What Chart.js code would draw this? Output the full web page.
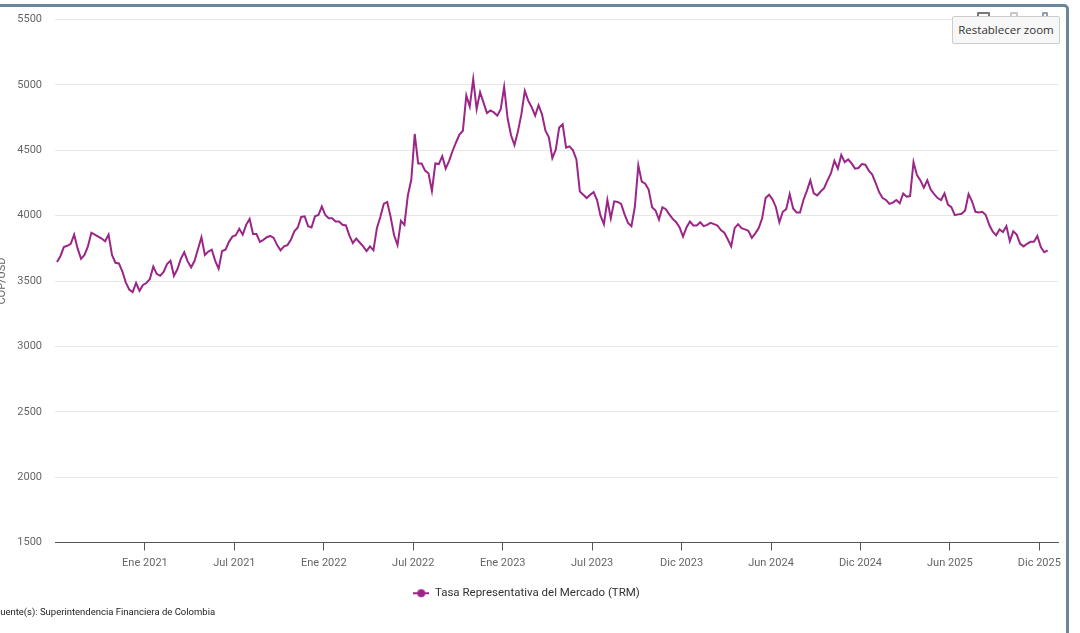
<!DOCTYPE html>
<html lang="es">
<head>
<meta charset="utf-8">
<title>Tasa Representativa del Mercado (TRM)</title>
<script src="https://cdn.jsdelivr.net/npm/chart.js@4.4.1/dist/chart.umd.min.js"></script>
<style>
  html, body { margin: 0; padding: 0; background: #fff; overflow: hidden; }
  body { width: 1080px; height: 633px; position: relative; font-family: Roboto, sans-serif; }
  #frame { position: absolute; left: -20px; top: 4px; width: 1089px; height: 700px;
           border: 3px solid #6a869b; border-radius: 5px; box-sizing: border-box; }
  #wrap { position: absolute; left: -5px; top: 0; width: 1085px; height: 633px; }
  #source { position: absolute; left: -5px; top: 606px; font: 9.5px Roboto, sans-serif; color: #222; white-space: nowrap; }
  .icon { position: absolute; top: 12px; height: 10px; box-sizing: border-box; border-radius: 1px; }
  #reset { position: absolute; left: 952px; top: 16px; width: 108px; height: 28px; box-sizing: border-box;
           background: #f7f7f7; border: 1px solid #cccccc; border-radius: 2px;
           font: 11.5px "Open Sans", sans-serif; color: #333; line-height: 26px; text-align: center; }
</style>
</head>
<body>
<div id="frame"></div>
<div id="wrap"><canvas id="trmChart" width="1085" height="633"></canvas></div>
<div class="icon" style="left:977px;width:13px;border:2px solid #777;"></div>
<div class="icon" style="left:1010px;width:8px;border:2px solid #c8c8c8;"></div>
<div class="icon" style="left:1042px;width:6px;border:2px solid #8c9fb0;"></div>
<div id="reset">Restablecer zoom</div>
<div id="source">Fuente(s): Superintendencia Financiera de Colombia</div>
<script>
// weekly TRM readings (COP per USD), first week starts on startDate
const startDate = '2020-07-06'
const trm2020 = [3645, 3690, 3760, 3770, 3785, 3855, 3750, 3670, 3700, 3765, 3870, 3855, 3840, 3825, 3805, 3855,
  3700, 3640, 3635, 3575, 3490, 3435, 3415, 3485, 3425, 3470]
const trm2021 = [3485, 3515, 3610, 3555, 3540, 3570, 3630, 3655, 3540, 3590, 3670, 3720, 3650, 3605, 3655, 3745,
  3835, 3700, 3725, 3740, 3655, 3595, 3730, 3740, 3800, 3840, 3850, 3900, 3855, 3930, 3975, 3860,
  3860, 3800, 3815, 3835, 3845, 3830, 3775, 3735, 3765, 3775, 3815, 3880, 3910, 3990, 3995, 3920,
  3910, 3995, 4005, 4070]
const trm2022 = [4005, 3980, 3980, 3955, 3955, 3930, 3925, 3850, 3790, 3825, 3795, 3765, 3730, 3765, 3735, 3905,
  3990, 4090, 4105, 3990, 3850, 3775, 3960, 3930, 4155, 4275, 4625, 4400, 4400, 4345, 4325, 4190,
  4400, 4395, 4455, 4360, 4420, 4495, 4560, 4620, 4650, 4920, 4835, 5045, 4815, 4945, 4865, 4785,
  4805, 4790, 4765, 4815]
const trm2023 = [4985, 4745, 4615, 4540, 4645, 4775, 4955, 4880, 4830, 4765, 4845, 4775, 4650, 4600, 4440, 4505,
  4675, 4700, 4520, 4530, 4500, 4430, 4185, 4160, 4135, 4160, 4180, 4120, 4000, 3935, 4120, 3980,
  4110, 4105, 4090, 4010, 3945, 3920, 4070, 4385, 4260, 4245, 4200, 4065, 4040, 3970, 4065, 4050,
  4010, 3975, 3950, 3910]
const trm2024 = [3840, 3910, 3955, 3925, 3925, 3950, 3920, 3930, 3945, 3935, 3925, 3890, 3870, 3820, 3765, 3905,
  3935, 3905, 3895, 3885, 3830, 3865, 3905, 3980, 4135, 4160, 4125, 4065, 3950, 4030, 4050, 4165,
  4055, 4025, 4025, 4120, 4190, 4270, 4170, 4155, 4185, 4210, 4270, 4325, 4420, 4360, 4465, 4410,
  4430, 4400, 4360, 4365, 4395]
const trm2025 = [4390, 4345, 4315, 4250, 4180, 4135, 4120, 4090, 4100, 4120, 4095, 4170, 4145, 4150, 4410, 4310,
  4270, 4215, 4270, 4200, 4165, 4135, 4120, 4170, 4085, 4065, 4005, 4010, 4015, 4040, 4165, 4110,
  4030, 4025, 4030, 4005, 3930, 3880, 3850, 3895, 3875, 3920, 3805, 3880, 3855, 3785, 3765, 3785,
  3800, 3800, 3845, 3760]
const trm2026 = [3720, 3735]

const tickDates = ['2021-01-01', '2021-07-02', '2021-12-31', '2022-07-01', '2022-12-30', '2023-06-30',
  '2023-12-29', '2024-06-28', '2024-12-27', '2025-06-27', '2025-12-26']
const tickLabels = ['Ene 2021', 'Jul 2021', 'Ene 2022', 'Jul 2022', 'Ene 2023', 'Jul 2023',
  'Dic 2023', 'Jun 2024', 'Dic 2024', 'Jun 2025', 'Dic 2025']

const lineColor = '#9b2687'
const DAY = 86400000
const t0 = Date.parse(startDate)

const weekly = [].concat(trm2020, trm2021, trm2022, trm2023, trm2024, trm2025, trm2026)
const points = weekly.map((v, i) => ({ x: i * 7, y: v }))
const tickDays = tickDates.map(d => (Date.parse(d) - t0) / DAY)

// legend marker: line with a dot, like the original
const mark = document.createElement('canvas')
mark.width = 16
mark.height = 10
const mc = mark.getContext('2d')
mc.strokeStyle = lineColor
mc.lineWidth = 2
mc.beginPath(); mc.moveTo(0, 5); mc.lineTo(16, 5); mc.stroke()
mc.fillStyle = lineColor
mc.beginPath(); mc.arc(8, 5, 4, 0, Math.PI * 2); mc.fill()

const axisFont = { family: 'Roboto', size: 11 }

var ctx = document.getElementById('trmChart').getContext('2d')
var trmChart = new Chart(ctx, {
  type: 'line',
  data: {
    datasets: [{
      label: 'Tasa Representativa del Mercado (TRM)',
      data: points,
      borderColor: lineColor,
      backgroundColor: lineColor,
      borderWidth: 2,
      pointRadius: 0,
      pointHoverRadius: 0,
      pointStyle: mark,
      tension: 0,
      fill: false
    }]
  },
  options: {
    responsive: false,
    maintainAspectRatio: false,
    animation: false,
    layout: { padding: { top: 16, right: 22, bottom: 24, left: 0 } },
    plugins: {
      tooltip: { enabled: false },
      legend: {
        position: 'bottom',
        labels: {
          usePointStyle: true,
          pointStyleWidth: 16,
          padding: 10,
          color: '#333',
          font: { family: 'Roboto', size: 11.5 }
        }
      }
    },
    scales: {
      x: {
        type: 'linear',
        min: -4,
        max: 2037,
        afterBuildTicks: s => { s.ticks = tickDays.map(v => ({ value: v })) },
        afterFit: s => { s.height = 35 },
        ticks: {
          autoSkip: false,
          maxRotation: 0,
          padding: 6,
          color: '#666',
          font: axisFont,
          callback: (v, i) => tickLabels[i]
        },
        grid: { drawOnChartArea: false, tickLength: 8, tickColor: '#555' },
        border: { color: '#555' }
      },
      y: {
        min: 1500,
        max: 5500,
        afterFit: s => { s.width = 60 },
        ticks: { stepSize: 500, padding: 13, color: '#666', font: axisFont, callback: v => String(v) },
        grid: { color: '#e6e6e6', drawTicks: false },
        border: { display: false },
        title: { display: true, text: 'COP/USD', color: '#666', font: axisFont, padding: { top: 1, bottom: 0 } }
      }
    }
  }
})
</script>
</body>
</html>
